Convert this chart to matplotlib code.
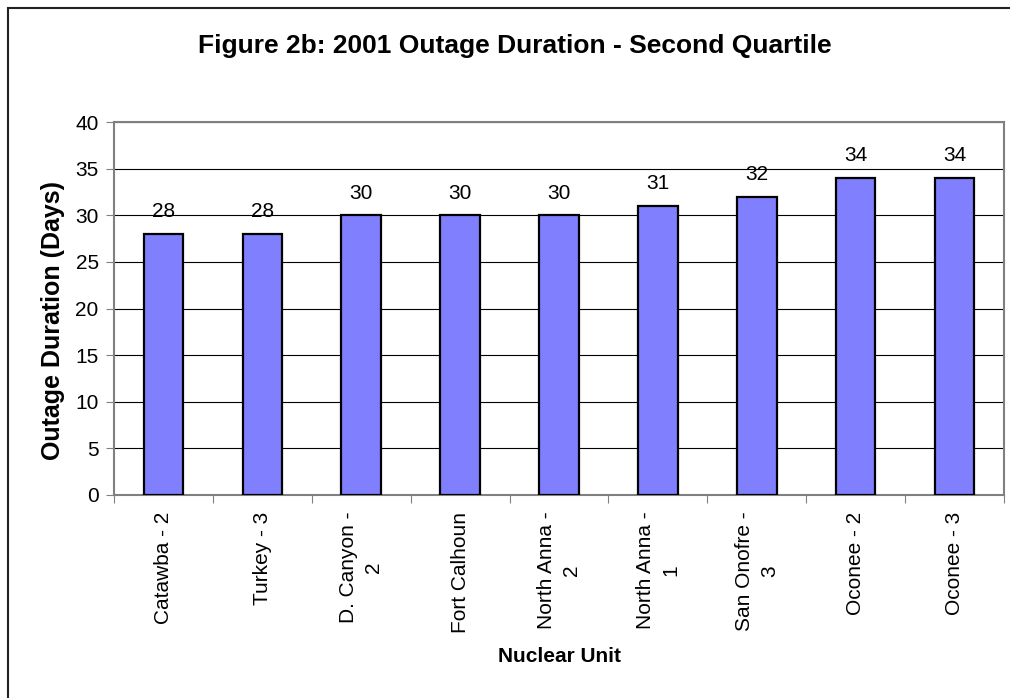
import matplotlib
matplotlib.use("Agg")
import matplotlib.pyplot as plt
from matplotlib.patches import Rectangle

units = ["Catawba - 2", "Turkey - 3", "D. Canyon -\n2", "Fort Calhoun", "North Anna -\n2",
         "North Anna -\n1", "San Onofre -\n3", "Oconee - 2", "Oconee - 3"]
days = [28, 28, 30, 30, 30, 31, 32, 34, 34]
yticks = [0, 5, 10, 15, 20, 25, 30, 35, 40]

plt.rcParams['font.family'] = ['Liberation Sans', 'DejaVu Sans']

fig = plt.figure(figsize=(10.1, 6.98), dpi=100)
fig.patch.set_facecolor('white')
fig.patches.append(Rectangle((8/1010, -0.1), 1.2, 1.1 - 8/698, transform=fig.transFigure,
                             fill=False, edgecolor='#222222', linewidth=1.5))

ax = fig.add_axes([114/1010, 1 - 495/698, (1004 - 114)/1010, (495 - 122)/698])
x = list(range(len(units)))
ax.bar(x, days, width=0.4, color='#8080FF', edgecolor='black', linewidth=1.6, zorder=3)
for xi, v in zip(x, days):
    ax.annotate(str(v), (xi, v), xytext=(0, 12), textcoords='offset points',
                ha='center', va='baseline', fontsize=15)

ax.set_xlim(-0.5, len(units) - 0.5)
ax.set_ylim(0, 40)
ax.set_yticks(yticks)
ax.set_yticklabels([str(t) for t in yticks], fontsize=15)
ax.yaxis.grid(True, color='black', linewidth=0.8, zorder=0)
ax.set_axisbelow(True)

ax.set_xticks([i + 0.5 for i in range(-1, len(units))])
ax.set_xticklabels([])
ax.set_xticks(x, minor=True)
ax.set_xticklabels(units, minor=True, rotation=90, fontsize=15, ha='center', va='top',
                   multialignment='center', linespacing=1.4)
ax.tick_params(axis='x', which='minor', length=0, pad=12)
ax.tick_params(axis='x', which='major', length=6, direction='out', color='#808080')
ax.tick_params(axis='y', length=6, direction='out', color='#808080', pad=5)

for s in ['top', 'right', 'left', 'bottom']:
    ax.spines[s].set_color('#808080')
    ax.spines[s].set_linewidth(1.5)

fig.text(53/1010, 1 - 320/698, 'Outage Duration (Days)', rotation=90, ha='center', va='center',
         fontsize=18, fontweight='bold')
fig.text(560/1010, 1 - 657/698, 'Nuclear Unit', ha='center', va='center', fontsize=15, fontweight='bold')
fig.text(515/1010, 1 - 46/698, 'Figure 2b: 2001 Outage Duration - Second Quartile',
         ha='center', va='center', fontsize=19, fontweight='bold')

fig.savefig('out.png', dpi=100)
